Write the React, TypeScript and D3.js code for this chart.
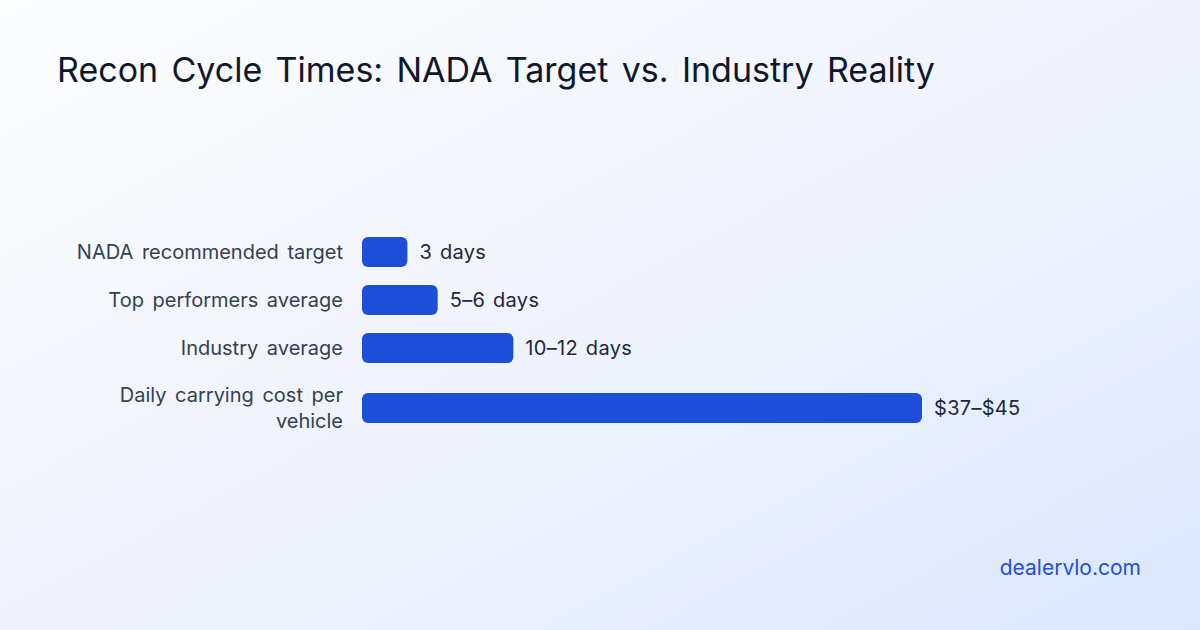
import { useEffect, useRef } from 'react'
import * as d3 from 'd3'

const TITLE = 'Recon Cycle Times: NADA Target vs. Industry Reality'
const categories = [
  ['NADA recommended target'],
  ['Top performers average'],
  ['Industry average'],
  ['Daily carrying cost per', 'vehicle'],
]
const values = [3, 5, 10, 37]
const valueLabels = ['3 days', '5–6 days', '10–12 days', '$37–$45']
const SOURCE = 'dealervlo.com'

const W = 1200, H = 630
const FONT = 'Inter, "Noto Sans", sans-serif'

export default function App() {
  const svgRef = useRef<SVGSVGElement>(null)

  useEffect(() => {
    document.body.style.margin = '0'
    if (!svgRef.current) return
    const svg = d3.select(svgRef.current)
    svg.selectAll('*').remove()

    // background gradient
    const defs = svg.append('defs')
    const grad = defs.append('linearGradient').attr('id', 'bg')
      .attr('x1', '0').attr('y1', '0').attr('x2', '1').attr('y2', '1')
    grad.append('stop').attr('offset', '0%').attr('stop-color', '#fcfdfe')
    grad.append('stop').attr('offset', '55%').attr('stop-color', '#eef2fc')
    grad.append('stop').attr('offset', '100%').attr('stop-color', '#dbe7fc')
    svg.append('rect').attr('width', W).attr('height', H).attr('fill', 'url(#bg)')

    svg.append('text').attr('x', 57).attr('y', 82)
      .attr('font-family', FONT).attr('font-size', 34).attr('fill', '#0f172a')
      .attr('word-spacing', 3.8)
      .text(TITLE)

    // rows: height depends on label line count
    const rowH = categories.map(c => 24 * c.length + 24)
    const starts = rowH.map((_, i) => 228 + d3.sum(rowH.slice(0, i)))

    const x = d3.scaleLinear().domain([0, d3.max(values)!]).range([362, 922])
    const barH = 30

    const g = svg.append('g')
    categories.forEach((lines, i) => {
      const cy = starts[i] + rowH[i] / 2
      g.append('rect')
        .attr('x', x(0)).attr('y', cy - barH / 2)
        .attr('width', x(values[i]) - x(0)).attr('height', barH)
        .attr('rx', 6).attr('fill', '#1d4ed8')

      const lt = g.append('text').attr('text-anchor', 'end')
        .attr('font-family', FONT).attr('font-size', 20).attr('fill', '#334155')
        .attr('word-spacing', 3)
      const lh = 26
      lines.forEach((ln, j) => {
        lt.append('tspan').attr('x', 343)
          .attr('y', cy + (j - (lines.length - 1) / 2) * lh)
          .attr('dy', '0.35em').text(ln)
      })

      g.append('text').attr('x', x(values[i]) + 12).attr('y', cy).attr('dy', '0.35em')
        .attr('font-family', FONT).attr('font-size', 20).attr('fill', '#1e293b')
        .attr('word-spacing', 2).attr('letter-spacing', 0.3)
        .text(valueLabels[i])
    })

    svg.append('text').attr('x', 1141).attr('y', 575).attr('text-anchor', 'end')
      .attr('font-family', FONT).attr('font-size', 21).attr('fill', '#2250d8')
      .text(SOURCE)
  }, [])

  return <svg ref={svgRef} width={W} height={H} style={{ display: 'block' }} />
}
